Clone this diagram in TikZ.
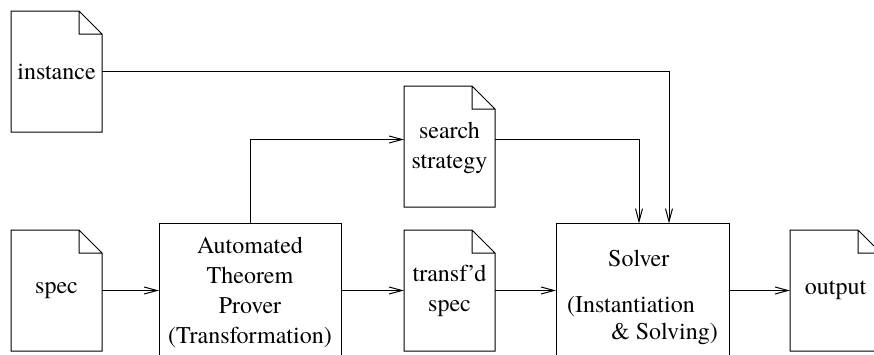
\documentclass[tikz,border=0pt]{standalone}
\usepackage{fontspec}
\setmainfont{TeX Gyre Termes}
\usetikzlibrary{arrows.meta, positioning}

\begin{document}
\begin{tikzpicture}[font=\fontsize{12}{15}\selectfont, line width=0.5pt]
		\tikzstyle{DocName} = [rectangle, minimum width=45.5pt, minimum height=60.5pt, inner sep=0pt, outer sep=0pt, text centered, align=center]
		\tikzstyle{ToolName} = [rectangle, minimum width=91pt, minimum height=67pt, inner sep=0pt, outer sep=0pt, text centered, align=center, draw=black]
		\tikzstyle{arrow} = [->, >={Straight Barb[length=6.5pt, width=3.5pt]}]
		
		\useasboundingbox (0,0) rectangle (437pt,-177pt);
		\clip (0,0) rectangle (437pt,-177pt);
		
		\node (spec) [DocName] at (28.25pt,-145.25pt) {spec};
		\node (instance) [DocName, above = 49pt of spec] {instance};
		
		\node (atp) [ToolName, right = 28.5pt of spec] {\rule{0pt}{10pt}Automated\\Theorem\\Prover\\(Transformation)};
		
		\node (transf) [DocName, right = 31.5pt of atp] {transf'd\\spec};
		\node (search) [DocName, above = 11.5pt of transf] {\rule{0pt}{10pt}search\\strategy};
		
		\node (solver) [ToolName, minimum width=86.5pt, align=left, right = 30.5pt of transf] {\rule{0pt}{15pt}\hspace*{20.5pt}Solver\\[8pt](Instantiation\\[-1.5pt]\hspace*{22pt}\& Solving)};
		\node (output) [DocName, right = 30.5pt of solver] {output};
		
		% dog-eared file outlines
		\foreach \d in {instance, spec, search, transf, output}
			\draw (\d.north west) -- ([xshift=-11.5pt]\d.north east) -- ([yshift=-11.5pt]\d.north east) -- (\d.south east) -- (\d.south west) -- cycle
				([xshift=-11.5pt]\d.north east) |- ([yshift=-11.5pt]\d.north east);
		
		\draw[arrow] (spec) -- (atp);
		\draw[arrow] (atp) -- (transf);
		\draw[arrow] (transf) -- (solver);
		\draw[arrow] (solver) -- (output);
		\draw[arrow] (atp.north) |- ([yshift=3.5pt]search.west);
		\draw[arrow] ([yshift=3.5pt]search.east) -| ([xshift=-1.75pt]solver.north);
		\draw[arrow] (instance.east) -| ([xshift=13.25pt]solver.north);
		\end{tikzpicture}
\end{document}
